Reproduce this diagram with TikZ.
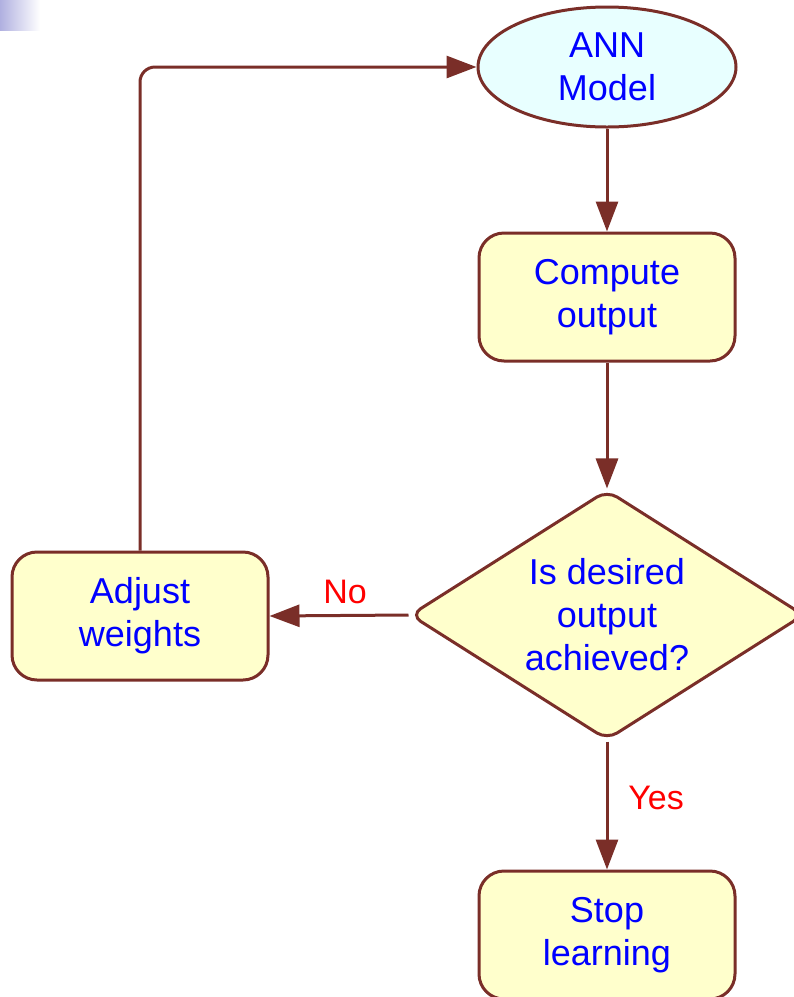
\documentclass[tikz,border=0pt]{standalone}
\usepackage{fontspec}
\setmainfont{Liberation Sans}
\usetikzlibrary{shapes.geometric,arrows.meta}
\definecolor{edge}{RGB}{122,46,40}
\definecolor{boxfill}{RGB}{255,255,204}
\definecolor{ellfill}{RGB}{232,255,255}
\definecolor{txtblue}{RGB}{0,0,255}
\definecolor{lblred}{RGB}{255,0,0}
\definecolor{shadeblue}{RGB}{176,176,224}
\tikzset{
  base/.style={draw=edge, line width=3pt, text=txtblue, align=center, inner sep=0pt,
    font=\fontsize{36}{43}\selectfont},
  procbox/.style={base, rectangle, rounded corners=25pt, fill=boxfill, minimum width=256pt, minimum height=128pt},
  startell/.style={base, ellipse, fill=ellfill, minimum width=258pt, minimum height=120pt},
  decide/.style={base, diamond, aspect=1.576, rounded corners=12pt, fill=boxfill, minimum width=394pt, minimum height=250pt},
  arr/.style={draw=edge, line width=3pt, -{Triangle[length=30pt,width=22pt]}},
  lbl/.style={text=lblred, font=\fontsize{34}{40}\selectfont, inner sep=0pt}
}
\begin{document}
\begin{tikzpicture}[x=1pt,y=-1pt]
\useasboundingbox (0,0) rectangle (794,997);
\shade[left color=shadeblue, right color=white] (0,0) rectangle (40,30);
\node[startell] (ann) at (607,67) {ANN\\Model};
\node[procbox] (comp) at (607,297) {Compute\\output};
\node[decide] (dec) at (607,615) {Is desired\\output\\achieved?};
\node[procbox] (adj) at (140,616) {Adjust\\weights};
\node[procbox] (stop) at (607,935) {Stop\\learning};
\draw[arr] (ann) -- (comp);
\draw[arr] (comp) -- (dec);
\draw[arr] (dec.west) -- (adj.east);
\draw[arr] (dec.south) -- (stop.north);
\draw[arr, rounded corners=15pt] (adj.north) |- (ann.west);
\node[lbl] (no) at (345,592) {No};
\node[lbl] (yes) at (656,798) {Yes};
\end{tikzpicture}
\end{document}
